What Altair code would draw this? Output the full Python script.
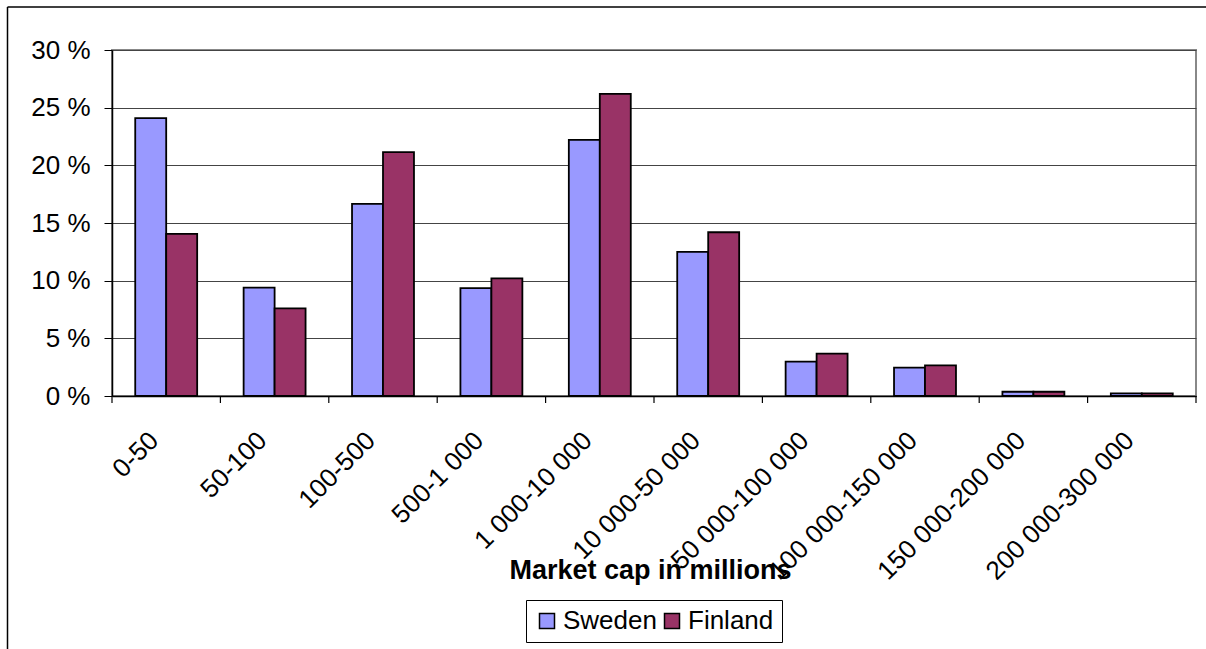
import altair as alt
import pandas as pd

categories = ["0-50", "50-100", "100-500", "500-1 000", "1 000-10 000", "10 000-50 000",
              "50 000-100 000", "100 000-150 000", "150 000-200 000", "200 000-300 000"]
sweden = [24.1, 9.4, 16.65, 9.35, 22.2, 12.5, 2.98, 2.46, 0.37, 0.22]
finland = [14.05, 7.6, 21.15, 10.2, 26.2, 14.2, 3.67, 2.65, 0.37, 0.22]
series = ["Sweden", "Finland"]
colors = ["#9999FF", "#993366"]
y_ticks = [0, 5, 10, 15, 20, 25, 30]

rows = []
for c, s, f in zip(categories, sweden, finland):
    rows.append({"cat": c, "country": "Sweden", "value": s})
    rows.append({"cat": c, "country": "Finland", "value": f})
df = pd.DataFrame(rows)
cat_df = pd.DataFrame({"cat": categories})
one = pd.DataFrame({"a": [0]})

FONT = "Liberation Sans"
W, H = 1084, 346

xscale = alt.Scale(domain=categories, paddingInner=0, paddingOuter=0)

bars = alt.Chart(df).mark_bar(stroke="black", strokeWidth=1.8).encode(
    x=alt.X("cat:N", sort=categories, scale=xscale,
            axis=alt.Axis(title="Market cap in millions", labelAngle=-45, labelAlign="right",
                          labelBaseline="middle", labelPadding=40, labelOffset=-12,
                          ticks=False, tickSize=0, labelFontSize=26, labelFont=FONT,
                          labelColor="black", labelLimit=400, domainColor="black", domainWidth=1.5,
                          titleFont=FONT, titleFontSize=27, titleFontWeight="bold", titleColor="black",
                          titleX=538, titleY=182, titleAlign="center", titleBaseline="alphabetic")),
    xOffset=alt.XOffset("country:N", sort=series,
                        scale=alt.Scale(paddingInner=0, paddingOuter=0.75)),
    y=alt.Y("value:Q", scale=alt.Scale(domain=[0, 30], nice=False),
            axis=alt.Axis(title=None, values=y_ticks, labelExpr="datum.value + ' %'",
                          labelFontSize=26, labelFont=FONT, labelColor="black", labelPadding=14,
                          tickSize=8, tickColor="black", domainColor="black", domainWidth=1.5,
                          grid=True, gridColor="#444444", gridWidth=1.2)),
    color=alt.Color("country:N", sort=series,
                    scale=alt.Scale(domain=series, range=colors),
                    legend=alt.Legend(title=None, orient="none", direction="horizontal",
                                      legendX=414, legendY=550, symbolType="square",
                                      symbolSize=225, symbolStrokeColor="black",
                                      symbolStrokeWidth=1.5, labelFontSize=26, labelFont=FONT,
                                      labelColor="black", labelOffset=3, columnPadding=2,
                                      padding=8, strokeColor="black", fillColor="white")),
)

ticks = alt.Chart(cat_df).mark_rule(color="black", strokeWidth=1.2).encode(
    x=alt.X("cat:N", sort=categories, bandPosition=0),
    y=alt.value(H), y2=alt.value(H + 7),
)
last_tick = alt.Chart(one).mark_rule(color="black", strokeWidth=1.2).encode(
    x=alt.value(W), y=alt.value(H), y2=alt.value(H + 7),
)
frame_left = alt.Chart(one).mark_rule(color="black", strokeWidth=1.5).encode(
    x=alt.value(-104.5), y=alt.value(-43), y2=alt.value(700),
)
frame_top = alt.Chart(one).mark_rule(color="black", strokeWidth=1.5).encode(
    x=alt.value(-104.5), x2=alt.value(1200), y=alt.value(-43),
)

chart = alt.layer(bars, ticks, last_tick, frame_left, frame_top).properties(
    width=W, height=H,
    autosize=alt.AutoSizeParams(type="none"),
    padding={"left": 112, "top": 50, "right": 10, "bottom": 253},
    background="white",
).configure_view(stroke="#888888", strokeWidth=2)

chart.save("out.html", embed_options={"renderer": "svg", "actions": False})
